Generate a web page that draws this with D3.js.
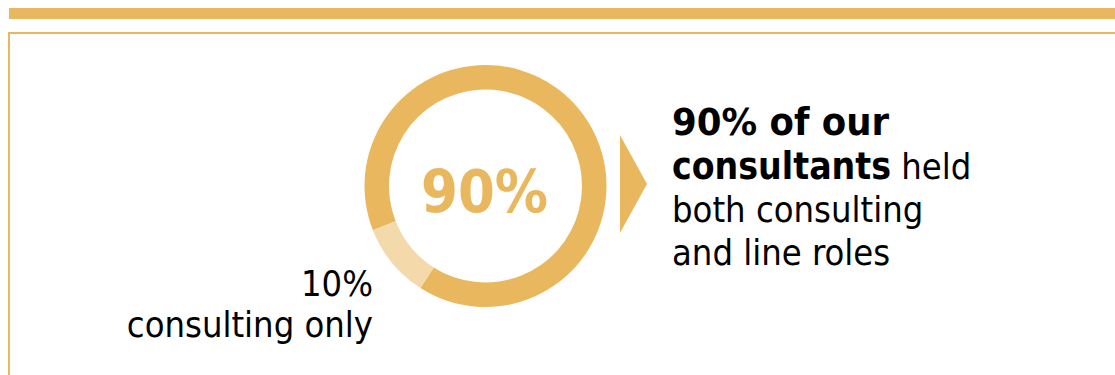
<!DOCTYPE html>
<html>
<head>
<meta charset="utf-8">
<script src="https://cdn.jsdelivr.net/npm/d3@7"></script>
<style>
  html, body { margin: 0; padding: 0; background: #ffffff; }
  svg { display: block; }
  text { font-family: "DejaVu Sans Condensed", "DejaVu Sans", sans-serif; font-stretch: condensed; }
</style>
</head>
<body>
<svg id="chart" width="1115" height="375"></svg>
<script>
// Share of consultants by role history
const categories = ["consulting and line roles", "consulting only"];
const shares = [90, 10];
const sliceColors = ["#E9B85E", "#F4DAAB"];

// Callout text, one entry per line; each line is a list of [text, bold] runs
const calloutLines = [
  [["90% of our", true]],
  [["consultants", true], [" held", false]],
  [["both consulting", false]],
  [["and line roles", false]]
];
const minorLabelLines = [shares[1] + "%", "consulting only"];

const gold = "#E9B85E";
const W = 1115, H = 375;
const svg = d3.select("#chart");

// Header band and the frame of the panel
svg.append("rect").attr("x", 9).attr("y", 8).attr("width", W - 9).attr("height", 11).attr("fill", gold);
svg.append("rect").attr("x", 9).attr("y", 32).attr("width", W - 9).attr("height", 2).attr("fill", gold);
svg.append("rect").attr("x", 8).attr("y", 32).attr("width", 2).attr("height", H - 32).attr("fill", gold);

// Donut
const cx = 485.5, cy = 186;
const outerR = 121, innerR = 96.5;
const deg = Math.PI / 180;
const pie = d3.pie().sort(null).value(d => d)
  .startAngle(248.5 * deg).endAngle(248.5 * deg + 2 * Math.PI);
const arc = d3.arc().innerRadius(innerR).outerRadius(outerR);

const g = svg.append("g").attr("transform", `translate(${cx},${cy})`);
g.selectAll("path")
  .data(pie(shares))
  .join("path")
  .attr("d", arc)
  .attr("fill", (d, i) => sliceColors[i]);

g.append("text")
  .attr("x", -1).attr("y", 25.7)
  .attr("text-anchor", "middle")
  .attr("font-weight", "bold")
  .attr("font-size", 59)
  .attr("fill", gold)
  .text(shares[0] + "%");

// Arrow pointing at the callout
svg.append("path")
  .attr("d", d3.line()([[620, 135], [647, 184], [620, 233]]) + "Z")
  .attr("fill", gold);

// Callout text
const callout = svg.append("text")
  .attr("font-size", 36)
  .attr("fill", "#000");
const calloutBaselines = [135, 179, 222, 265];
calloutLines.forEach((runs, i) => {
  runs.forEach((run, j) => {
    const t = callout.append("tspan")
      .attr("font-weight", run[1] ? "bold" : "normal")
      .attr("font-size", run[1] ? 37 : 36)
      .text(run[0]);
    if (j === 0) t.attr("x", 672).attr("y", calloutBaselines[i]);
    if (i === 0) t.attr("textLength", 217).attr("lengthAdjust", "spacingAndGlyphs");
  });
});

// Label of the small slice
const minorBaselines = [296, 337];
svg.append("g")
  .selectAll("text")
  .data(minorLabelLines)
  .join("text")
  .attr("x", 373)
  .attr("y", (d, i) => minorBaselines[i])
  .attr("text-anchor", "end")
  .attr("font-size", 36)
  .attr("fill", "#000")
  .text(d => d);
</script>
</body>
</html>
